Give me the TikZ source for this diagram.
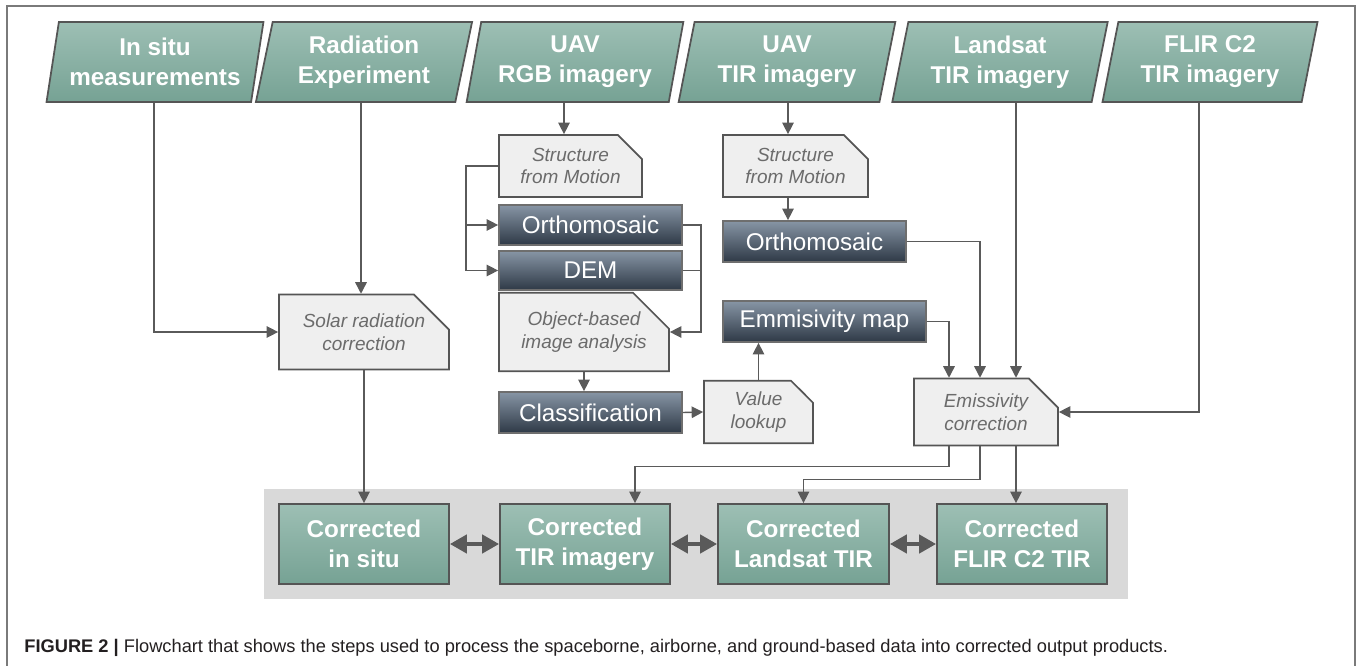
\documentclass[tikz,border=0pt]{standalone}
\usepackage{fontspec}
\setmainfont{Liberation Sans}
\usetikzlibrary{shapes.geometric,shapes.misc,arrows.meta,calc}
\definecolor{TealBase}{HTML}{76A294}
\definecolor{TealLight}{HTML}{9DBFB4}
\definecolor{SlateTop}{HTML}{8795A5}
\definecolor{SlateBot}{HTML}{2E3946}
\definecolor{NoteFill}{HTML}{EFEFEF}
\definecolor{EdgeGray}{HTML}{555555}
\definecolor{LineGray}{HTML}{5A5A5A}
\definecolor{TextGray}{HTML}{6B6B6B}
\definecolor{PanelGray}{HTML}{D9D9D9}
\definecolor{FrameGray}{HTML}{7A7A7A}
\definecolor{CaptionInk}{HTML}{231F20}

\begin{document}
\begin{tikzpicture}[
  x=0.02cm, y=-0.02cm,
  >={Triangle[length=2.3mm,width=2.3mm]},
  source/.style={trapezium, trapezium left angle=77, trapezium right angle=103,
    trapezium stretches=true, minimum width=4.34cm, minimum height=1.6cm,
    draw=EdgeGray, line width=1pt, top color=TealLight, bottom color=TealBase,
    text=white, align=center, inner sep=0pt,
    font=\fontsize{13.8}{17}\selectfont\bfseries},
  result/.style={rectangle, minimum width=3.4cm, minimum height=1.6cm,
    draw=EdgeGray, line width=1pt, top color=TealLight, bottom color=TealBase,
    text=white, align=center, inner sep=0pt,
    font=\fontsize{13.8}{17}\selectfont\bfseries},
  note/.style={chamfered rectangle, chamfered rectangle corners=north east,
    chamfered rectangle xsep=0.24cm, chamfered rectangle ysep=0.24cm,
    minimum height=1.24cm, draw=EdgeGray, line width=1pt, fill=NoteFill,
    text=TextGray, align=center, inner sep=0pt,
    font=\fontsize{10.8}{13}\selectfont\itshape},
  layer/.style={rectangle, minimum height=0.8cm, draw=EdgeGray!85,
    line width=1pt, top color=SlateTop, bottom color=SlateBot,
    text=white, inner sep=0pt, font=\fontsize{13.8}{17}\selectfont},
  conn/.style={LineGray, line width=0.8pt, ->},
  link/.style={LineGray, line width=0.8pt},
  both/.style={LineGray, line width=2.8pt,
    {Triangle[length=3.4mm,width=3.6mm]}-{Triangle[length=3.4mm,width=3.6mm]}}
]
\useasboundingbox (0,0) rectangle (1357,666);

% === frame and output panel ===
\draw[FrameGray, line width=0.8pt] (7,680) -- (7,6) -- (1355,6) -- (1355,680);
\fill[PanelGray] (264,489) rectangle (1128,599);

% === data sources ===
\node[source] (insitu)  at (155,62)  {In situ\\measurements};
\node[source] (radexp)  at (364,62)  {Radiation\\Experiment};
\node[source] (uavrgb)  at (575,62)  {UAV\\RGB imagery};
\node[source] (uavtir)  at (787,62)  {UAV\\TIR imagery};
\node[source] (landsat) at (1000,62) {Landsat\\TIR imagery};
\node[source] (flir)    at (1210,62) {FLIR C2\\TIR imagery};

% === processing ===
\node[note, minimum width=2.86cm] (sfmrgb) at (570.5,166) {Structure\\from Motion};
\node[layer, minimum width=3.66cm] (orthorgb) at (590.5,225) {Orthomosaic};
\node[layer, minimum width=3.66cm, minimum height=0.78cm] (demrgb) at (590.5,270.5) {DEM};
\node[note, minimum width=3.4cm, chamfered rectangle xsep=0.34cm, chamfered rectangle ysep=0.38cm] (obia) at (584,332) {Object-based\\image analysis};
\node[layer, minimum width=3.66cm, minimum height=0.82cm] (classif) at (590.5,412.5) {Classification};
\node[note, minimum width=2.18cm, chamfered rectangle xsep=0.22cm, chamfered rectangle ysep=0.22cm] (lookup) at (758.5,412) {Value\\lookup};
\node[layer, minimum width=4.06cm, minimum height=0.82cm] (emmap) at (824.5,321.5) {Emmisivity map};
\node[note, minimum width=2.9cm] (sfmtir) at (795.5,166) {Structure\\from Motion};
\node[layer, minimum width=3.66cm, minimum height=0.82cm] (orthotir) at (814.5,241.5) {Orthomosaic};
\node[note, minimum width=3.4cm, chamfered rectangle xsep=0.32cm, chamfered rectangle ysep=0.38cm] (solar) at (364,332) {Solar radiation\\correction};
\node[note, minimum width=2.88cm, chamfered rectangle xsep=0.28cm, chamfered rectangle ysep=0.3cm] (emcorr) at (986,412) {Emissivity\\correction};

% === corrected products ===
\node[result] (cinsitu)  at (364,544)   {Corrected\\in situ};
\node[result] (ctir)     at (585,544)   {Corrected\\TIR imagery};
\node[result, minimum width=3.42cm] (clandsat) at (803.5,544) {Corrected\\Landsat TIR};
\node[result] (cflir)    at (1022,544)  {Corrected\\FLIR C2 TIR};

% line columns
\coordinate (isdrop)   at (154,0);
\coordinate (raddrop)  at (361,0);
\coordinate (rgbdrop)  at (564,0);
\coordinate (tirdrop)  at (788,0);
\coordinate (lsdrop)   at (1016,0);
\coordinate (flirdrop) at (1199,0);
\coordinate (rgbbus)   at (466,0);
\coordinate (ortbus)   at (701,0);
\coordinate (mapdrop)  at (949,0);
\coordinate (tirin)    at (980,0);
\coordinate (tirout)   at (635,0);

% === connectors ===
\draw[conn] (isdrop |- insitu.south) |- (solar.west);
\draw[conn] (raddrop |- radexp.south) -- (raddrop |- solar.north);
\draw[conn] (solar.south) -- (cinsitu.north);

\draw[conn] (rgbdrop |- uavrgb.south) -- (rgbdrop |- sfmrgb.north);
\draw[conn] (sfmrgb.west) -| (rgbbus |- demrgb.west) -- (demrgb.west);
\draw[conn] (rgbbus |- orthorgb.west) -- (orthorgb.west);
\draw[conn] (orthorgb.east) -| (ortbus |- obia.east) -- (obia.east);
\draw[link] (demrgb.east) -- (ortbus |- demrgb.east);
\draw[conn] (obia.south) -- (obia.south |- classif.north);
\draw[conn] (classif.east) -- (lookup.west);
\draw[conn] (lookup.north) -- (lookup.north |- emmap.south);
\draw[conn] (emmap.east) -| (mapdrop |- emcorr.north);

\draw[conn] (tirdrop |- uavtir.south) -- (tirdrop |- sfmtir.north);
\draw[conn] (tirdrop |- sfmtir.south) -- (tirdrop |- orthotir.north);
\draw[conn] (orthotir.east) -| (tirin |- emcorr.north);
\draw[conn] (lsdrop |- landsat.south) -- (lsdrop |- emcorr.north);
\draw[conn] (flirdrop |- flir.south) |- (emcorr.east);

\draw[conn] (mapdrop |- emcorr.south) -- ++(0,20) -| (tirout |- ctir.north);
\draw[conn] (tirin |- emcorr.south) -- ++(0,33) -| (clandsat.north);
\draw[conn] (lsdrop |- emcorr.south) -- (lsdrop |- cflir.north);

\draw[both] (cinsitu.east) -- (ctir.west);
\draw[both] (ctir.east) -- (clandsat.west);
\draw[both] (clandsat.east) -- (cflir.west);

% === caption ===
\node[anchor=west, inner sep=0pt, text=CaptionInk, font=\fontsize{10.4}{12}\selectfont]
  (caption) at (24,648) {\textbf{FIGURE 2 |} Flowchart that shows the steps used to process the spaceborne, airborne, and ground-based data into corrected output products.};

\end{tikzpicture}
\end{document}
